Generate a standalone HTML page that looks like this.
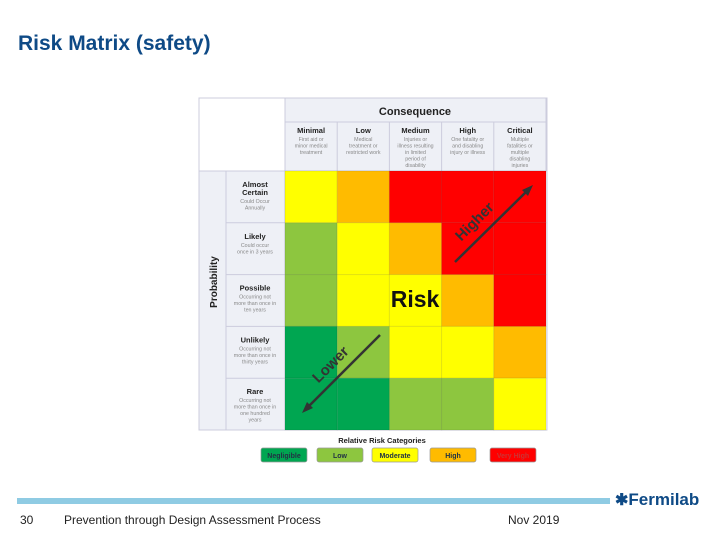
<!DOCTYPE html>
<html><head><meta charset="utf-8"><style>
body{margin:0;width:720px;height:540px;background:#fff;position:relative;overflow:hidden;font-family:"Liberation Sans",Arial,sans-serif}
.abs{position:absolute}
</style></head><body>
<div class="abs" style="left:18px;top:32px;font-size:21px;font-weight:bold;color:#0e4a86">Risk Matrix (safety)</div>
<svg class="abs" style="left:0;top:0" width="720" height="540" id="m" font-family="Liberation Sans, Arial, sans-serif"></svg>
<div class="abs" style="left:17px;top:498px;width:593px;height:6px;background:#8fcbe3"></div>
<div class="abs" style="left:615px;top:490px;font-size:17px;font-weight:bold;color:#0e4a86"><span style="font-size:16px">✱</span>Fermilab</div>
<div class="abs" style="left:20px;top:513px;font-size:12px;color:#222">30</div>
<div class="abs" style="left:64px;top:513px;font-size:12px;color:#222">Prevention through Design Assessment Process</div>
<div class="abs" style="left:508px;top:513px;font-size:12px;color:#222">Nov 2019</div>
<script>
const consequences=["Minimal","Low","Medium","High","Critical"];
const consDesc=[["First aid or","minor medical","treatment"],["Medical","treatment or","restricted work"],["Injuries or","illness resulting","in limited","period of","disability"],["One fatality or","and disabling","injury or illness"],["Multiple","fatalities or","multiple","disabling","injuries"]];
const probabilities=["Almost Certain","Likely","Possible","Unlikely","Rare"];
const probDesc=[["Could Occur","Annually"],["Could occur","once in 3 years"],["Occurring not","more than once in","ten years"],["Occurring not","more than once in","thirty years"],["Occurring not","more than once in","one hundred","years"]];
const levels=[[2,3,4,4,4],[1,2,3,4,4],[1,2,2,3,4],[0,1,2,2,3],[0,0,1,1,2]];
const categories=["Negligible","Low","Moderate","High","Very High"];
const catColors=["#00a651","#8dc63f","#ffff00","#ffbb00","#ff0000"];
const svg=document.getElementById('m');const NS="http://www.w3.org/2000/svg";
function mk(t,a,p){const e=document.createElementNS(NS,t);for(const k in a)e.setAttribute(k,a[k]);(p||svg).appendChild(e);return e;}
const X0=285,Y0=171,CW=52.2,CH=51.8;
const cx=i=>X0+i*CW, cy=j=>Y0+j*CH;
let e;
e=mk('rect',{x:199,y:98,width:348,height:332,fill:'#fff',stroke:'#ccd',"stroke-width":1});

mk('rect',{x:285,y:98,width:261,height:73,fill:'#eef0f6',stroke:'#ccd'});
mk('rect',{x:199,y:171,width:86,height:259,fill:'#eef0f6',stroke:'#ccd'});
e=mk('text',{x:415,y:115,"font-size":11,"font-weight":"bold","text-anchor":"middle",fill:'#222'});e.textContent="Consequence";

mk('line',{x1:285,y1:122,x2:546,y2:122,stroke:'#ccd'});
mk('line',{x1:226,y1:171,x2:226,y2:430,stroke:'#ccd'});
e=mk('text',{x:0,y:0,"font-size":10,"font-weight":"bold","text-anchor":"middle",fill:'#222',transform:'translate(217,282) rotate(-90)'});e.textContent="Probability";

consequences.forEach((c,i)=>{
 mk('line',{x1:cx(i),y1:122,x2:cx(i),y2:171,stroke:'#ccd'});
 e=mk('text',{x:cx(i)+CW/2,y:133,"font-size":7.5,"font-weight":"bold","text-anchor":"middle",fill:'#222'});e.textContent=c;
 
 consDesc[i].forEach((d,k)=>{e=mk('text',{x:cx(i)+CW/2,y:141+k*6.5,"font-size":5.3,"text-anchor":"middle",fill:'#888'});e.textContent=d;});
});
probabilities.forEach((p,j)=>{
 mk('line',{x1:226,y1:cy(j),x2:285,y2:cy(j),stroke:'#ccd'});
 const w=p.split(' ');
 w.forEach((t,k)=>{e=mk('text',{x:255,y:cy(j)+16+k*8,"font-size":7.5,"font-weight":"bold","text-anchor":"middle",fill:'#222'});e.textContent=t;
 });
 probDesc[j].forEach((d,k)=>{e=mk('text',{x:255,y:cy(j)+16+w.length*8+k*6.5,"font-size":5.3,"text-anchor":"middle",fill:'#888'});e.textContent=d;});
});
levels.forEach((row,j)=>row.forEach((lv,i)=>{
 e=mk('rect',{x:cx(i),y:cy(j),width:CW,height:CH,fill:catColors[lv],stroke:'rgba(0,0,0,0.08)'});
 
}));
mk('line',{x1:455,y1:262,x2:528,y2:190,stroke:'#333',"stroke-width":2.5});
mk('polygon',{points:'533,185 522,190 528,196',fill:'#333'});
mk('line',{x1:380,y1:335,x2:308,y2:407,stroke:'#333',"stroke-width":2.5});
mk('polygon',{points:'302,413 307,402 313,408',fill:'#333'});
e=mk('text',{x:0,y:0,"font-size":15,"font-weight":"bold",fill:'#333',"text-anchor":"middle",transform:'translate(478,225) rotate(-45)'});e.textContent="Higher";

e=mk('text',{x:0,y:0,"font-size":15,"font-weight":"bold",fill:'#333',"text-anchor":"middle",transform:'translate(334,368) rotate(-45)'});e.textContent="Lower";

e=mk('text',{x:415,y:307,"font-size":23,"font-weight":"bold",fill:'#111',"text-anchor":"middle"});e.textContent="Risk";

e=mk('text',{x:382,y:443,"font-size":7.5,"font-weight":"bold","text-anchor":"middle",fill:'#222'});e.textContent="Relative Risk Categories";

const LX=[261,317,372,430,490];
categories.forEach((c,i)=>{
 e=mk('rect',{x:LX[i],y:448,width:46,height:14,rx:2,fill:catColors[i],stroke:'#999',"stroke-width":0.7});
 
 e=mk('text',{x:LX[i]+23,y:458,"font-size":7,"font-weight":"bold","text-anchor":"middle",fill:i==4?'#c33':'#234'});e.textContent=c;
});
</script>
</body></html>
